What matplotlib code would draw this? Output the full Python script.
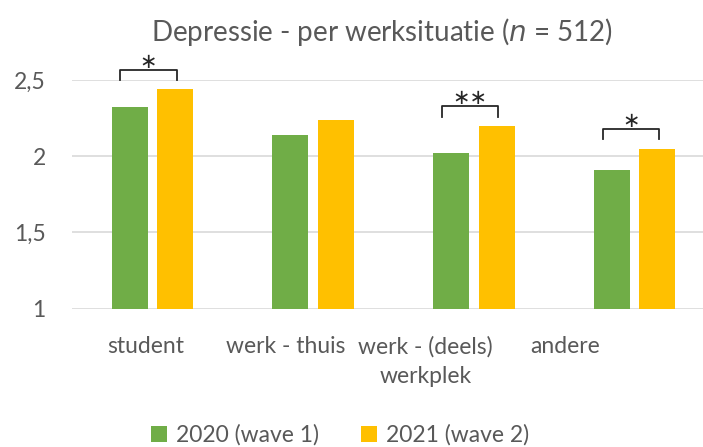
import numpy as np
import matplotlib
matplotlib.use("Agg")
import matplotlib.pyplot as plt

categories = ["student", "werk - thuis", "werk - (deels)\nwerkplek", "andere"]
wave1 = [2.32, 2.14, 2.02, 1.91]
wave2 = [2.44, 2.24, 2.20, 2.05]
labels = ["2020 (wave 1)", "2021 (wave 2)"]
significance = ["*", "", "**", "*"]

green = "#70ad47"
yellow = "#ffc000"
grey = "#595959"

plt.rcParams["font.family"] = ["Lato", "DejaVu Sans"]

fig = plt.figure(figsize=(7.03, 4.47), dpi=100)
ax = fig.add_axes([0.1027, 0.3094, 0.9144, 0.5116])

x = np.arange(len(categories))
w = 0.224
off = 0.142
ax.bar(x - off, wave1, w, color=green, label=labels[0], zorder=3)
ax.bar(x + off, wave2, w, color=yellow, label=labels[1], zorder=3)

ax.set_xlim(-0.5, len(categories) - 0.5)
ax.set_ylim(1, 2.5)
ax.set_yticks([1, 1.5, 2, 2.5])
ax.set_yticklabels(["1", "1,5", "2", "2,5"])
# category labels in the original sit on a tighter spacing than the bars
ax.set_xticks(-0.044 + 0.871 * x)
ax.set_xticklabels(categories, linespacing=1.45)
ax.grid(axis="y", color="#d9d9d9", lw=1.2, zorder=0)
for s in ax.spines.values():
    s.set_visible(False)
ax.tick_params(length=0, labelsize=16.5, labelcolor=grey)
ax.tick_params(axis="y", pad=19)
ax.tick_params(axis="x", pad=20)

# significance brackets
for i, sig in enumerate(significance):
    if not sig:
        continue
    base = max(wave1[i], wave2[i]) + 0.06
    top = base + 0.067
    xl, xr = x[i] - 0.2, x[i] + 0.15
    ax.plot([xl, xl, xr, xr], [base, top, top, base], color="#262626",
            lw=1.3, clip_on=False, zorder=4)
    ax.text((xl + xr) / 2, top + 0.052, sig.replace("*", "\u2217"),
            ha="center", va="center", fontsize=15, color="#262626",
            family="DejaVu Sans")

fig.text(382 / 703, 1 - 32 / 447, "Depressie - per werksituatie ($\\it{n}$ = 512)",
         ha="center", va="center", fontsize=20, color=grey)

fig.legend(loc="center", bbox_to_anchor=(340 / 703, 1 - 435 / 447), ncol=2,
           frameon=False, fontsize=16.5, labelcolor=grey, handlelength=0.7,
           handleheight=0.7, handletextpad=0.4, columnspacing=1.8)

fig.savefig("out.png", dpi=100)
